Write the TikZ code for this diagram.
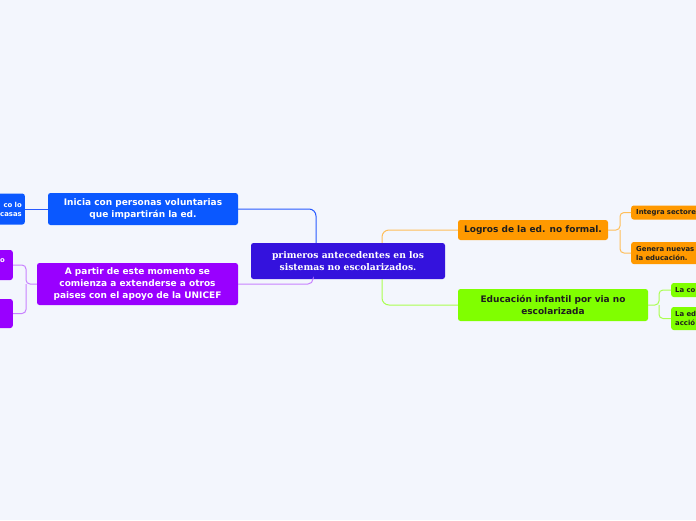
\documentclass[tikz,border=0pt]{standalone}
\usepackage{fontspec}
\setmainfont{DejaVu Serif}
\newfontfamily\boxsans{DejaVu Sans}
\definecolor{bg}{RGB}{243,246,253}
\definecolor{cmain}{RGB}{52,18,221}
\definecolor{cblue}{RGB}{10,88,255}
\definecolor{cpurple}{RGB}{153,0,255}
\definecolor{corange}{RGB}{255,153,0}
\definecolor{cgreen}{RGB}{128,255,0}
\definecolor{lblue}{RGB}{40,90,255}
\definecolor{lpurple}{RGB}{200,130,255}
\definecolor{lorange}{RGB}{255,190,90}
\definecolor{lgreen}{RGB}{170,255,80}
\definecolor{dtext}{RGB}{30,30,30}
\tikzset{
  basebox/.style={rounded corners=2.5pt, inner sep=0pt, align=center},
  mainbox/.style={basebox, fill=cmain, text=white, font=\fontsize{9.2}{12}\selectfont\bfseries},
  bigbox/.style={basebox, font=\boxsans\fontsize{9}{11.6}\selectfont\bfseries},
  smallbox/.style={basebox, font=\boxsans\fontsize{6.9}{9}\selectfont\bfseries},
  conn/.style={line width=1pt, rounded corners=7pt},
}
\begin{document}
\begin{tikzpicture}[x=1pt,y=-1pt]
\fill[bg] (0,0) rectangle (696,520);
\useasboundingbox (0,0) rectangle (696,520);
\clip (0,0) rectangle (696,520);

% central
\node[mainbox, minimum width=194pt, minimum height=36pt] (c) at (348,261)
  {primeros antecedentes en los\\sistemas no escolarizados.};

% main branches
\node[bigbox, fill=cblue, text=white, minimum width=190pt, minimum height=32pt] (blue) at (143,209)
  {Inicia con personas voluntarias\\que impartirán la ed.};
\node[bigbox, fill=cpurple, text=white, minimum width=201pt, minimum height=42pt] (purple) at (137.5,284)
  {A partir de este momento se\\comienza a extenderse a otros\\paises con el apoyo de la UNICEF};
\node[bigbox, fill=corange, text=dtext, minimum width=150pt, minimum height=20pt] (orange) at (533,230)
  {Logros de la ed. no formal.};
\node[bigbox, fill=cgreen, text=dtext, minimum width=190pt, minimum height=32pt] (green) at (553,305)
  {Educación infantil por via no\\escolarizada};

% children (partly outside the picture)
\node[smallbox, fill=cblue, text=white, anchor=east, minimum height=31pt, text width=60pt, align=right, inner xsep=3pt] (bc) at (25,209)
  {co lo\\casas};
\node[smallbox, fill=cpurple, text=white, anchor=east, minimum height=30pt, text width=50pt, align=right, inner xsep=8pt] (pc1) at (13,265)
  {o\\~};
\node[smallbox, fill=cpurple, text=white, anchor=east, minimum height=29pt, text width=50pt, align=right, inner xsep=3pt] (pc2) at (13,313.5)
  {~};
\node[smallbox, fill=corange, text=dtext, anchor=west, minimum height=14pt, text width=120pt, align=left, inner xsep=5pt] (oc1) at (631,212.5)
  {Integra sectore};
\node[smallbox, fill=corange, text=dtext, anchor=west, minimum height=22pt, text width=120pt, align=left, inner xsep=5pt] (oc2) at (631,253)
  {Genera nuevas\\la educación.};
\node[smallbox, fill=cgreen, text=dtext, anchor=west, minimum height=14pt, text width=120pt, align=left, inner xsep=4pt] (gc1) at (671,290)
  {La co};
\node[smallbox, fill=cgreen, text=dtext, anchor=west, minimum height=23pt, text width=120pt, align=left, inner xsep=4pt] (gc2) at (671,318.5)
  {La ed\\acció};

% junctions
\coordinate (pj) at (26,284);
\coordinate (oj) at (620,230);
\coordinate (gj) at (659,305);

% connectors
\draw[conn, lblue] ([xshift=-32pt]c.north) |- (blue.east);
\draw[conn, lpurple, rounded corners=5pt] ([xshift=-35pt]c.south) |- (purple.east);
\draw[conn, lorange] ([xshift=34pt]c.north) |- (orange.west);
\draw[conn, lgreen] ([xshift=34pt]c.south) |- (green.west);
\draw[conn, lblue] (blue.west) -- (bc.east);
\draw[conn, lpurple, rounded corners=4pt] (purple.west) -- (pj) |- (pc1.east);
\draw[conn, lpurple, rounded corners=4pt] (pj) |- (pc2.east);
\draw[conn, lorange, rounded corners=4pt] (orange.east) -- (oj) |- (oc1.west);
\draw[conn, lorange, rounded corners=4pt] (oj) |- (oc2.west);
\draw[conn, lgreen, rounded corners=4pt] (green.east) -- (gj) |- (gc1.west);
\draw[conn, lgreen, rounded corners=4pt] (gj) |- (gc2.west);
\end{tikzpicture}
\end{document}
